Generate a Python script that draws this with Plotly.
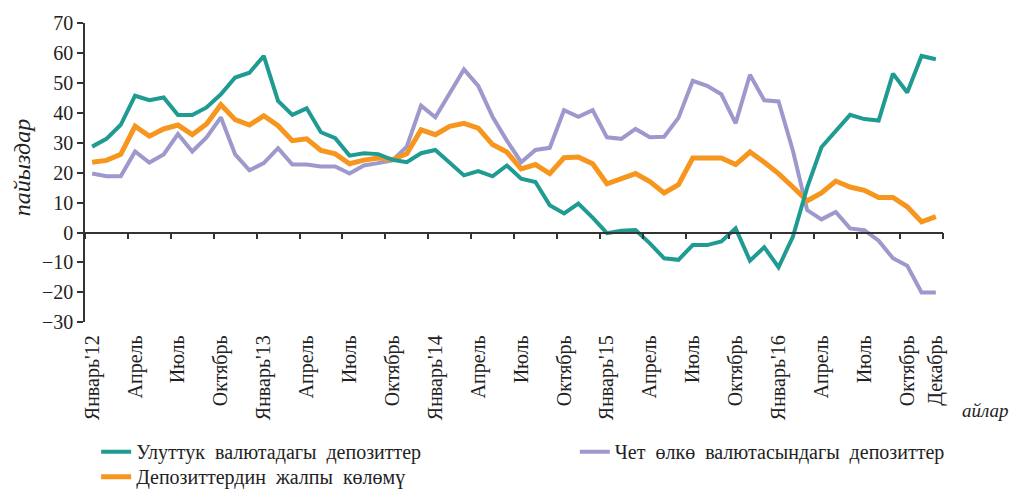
import plotly.graph_objects as go

# Monthly data, January 2012 - December 2016 (percent, y/y growth)
national = [28.7, 31.3, 36.0, 45.7, 44.2, 45.1, 39.3, 39.3, 41.8, 46.2, 51.8, 53.4,
            59.0, 44.0, 39.3, 41.5, 33.5, 31.5, 25.7, 26.5, 26.2, 24.3, 23.5, 26.5,
            27.6, 23.5, 19.1, 20.5, 18.8, 22.4, 18.0, 16.9, 9.1, 6.4, 9.7, 5.0,
            -0.2, 0.6, 0.8, -3.6, -8.6, -9.1, -4.2, -4.2, -3.0, 1.4, -9.4, -4.9,
            -11.6, -1.4, 15.0, 28.5, 33.8, 39.3, 37.9, 37.4, 53.1, 46.8, 59.0, 57.9]
foreign = [19.7, 18.8, 18.8, 27.1, 23.4, 26.1, 32.9, 27.1, 31.8, 38.5, 26.1, 20.8,
           23.2, 28.2, 22.7, 22.7, 22.1, 22.1, 19.7, 22.4, 23.2, 24.1, 28.7, 42.4,
           38.5, 46.8, 54.5, 49.0, 38.7, 30.7, 23.5, 27.6, 28.3, 40.9, 38.7, 40.9,
           31.8, 31.3, 34.6, 31.8, 32.0, 38.3, 50.7, 49.0, 46.2, 36.5, 52.7, 44.2,
           43.8, 27.4, 7.5, 4.4, 6.9, 1.4, 0.8, -2.7, -8.6, -11.1, -20.0, -20.0]
total = [23.5, 24.1, 26.1, 35.5, 32.2, 34.6, 35.9, 32.7, 36.3, 42.7, 37.7, 35.9,
         39.0, 35.7, 30.7, 31.3, 27.4, 26.3, 23.0, 24.2, 24.9, 24.4, 26.3, 34.3,
         32.7, 35.5, 36.5, 34.9, 29.4, 26.9, 21.3, 22.7, 19.7, 25.0, 25.2, 23.0,
         16.3, 18.0, 19.7, 17.0, 13.2, 16.0, 24.9, 24.9, 24.9, 22.7, 26.9, 23.5,
         19.7, 15.2, 10.6, 13.2, 17.2, 15.2, 14.1, 11.7, 11.7, 8.6, 3.6, 5.3]

tick_positions = [0, 3, 6, 9, 12, 15, 18, 21, 24, 27, 30, 33, 36, 39, 42, 45, 48, 51, 54, 57, 59]
tick_labels = ["Январь'12", "Апрель", "Июль", "Октябрь",
               "Январь'13", "Апрель", "Июль", "Октябрь",
               "Январь'14", "Апрель", "Июль", "Октябрь",
               "Январь'15", "Апрель", "Июль", "Октябрь",
               "Январь'16", "Апрель", "Июль", "Октябрь", "Декабрь"]

series_names = ["Улуттук\u00a0 валютадагы\u00a0 депозиттер",
                "Чет\u00a0 өлкө\u00a0 валютасындагы\u00a0 депозиттер",
                "Депозиттердин\u00a0 жалпы\u00a0 көлөмү"]

x = list(range(len(total)))
n = len(total)
boundaries = [p - 0.5 for p in range(0, n + 1, 3)]

FONT = "Liberation Serif, Times New Roman, serif"
TEAL = "#1f9b92"
PURPLE = "#9d99cc"
ORANGE = "#f7961f"
AXIS = "#333333"
TXT = "#222222"

fig = go.Figure()
fig.add_trace(go.Scatter(x=x, y=foreign, mode="lines", name=series_names[1],
                         line=dict(color=PURPLE, width=4), legend="legend2"))
fig.add_trace(go.Scatter(x=x, y=total, mode="lines", name=series_names[2],
                         line=dict(color=ORANGE, width=5), legend="legend3"))
fig.add_trace(go.Scatter(x=x, y=national, mode="lines", name=series_names[0],
                         line=dict(color=TEAL, width=4), legend="legend"))

legend_common = dict(orientation="h", xref="container", yref="container",
                     xanchor="left", yanchor="top",
                     font=dict(family=FONT, size=20, color=TXT),
                     bgcolor="rgba(0,0,0,0)")

fig.update_layout(
    width=1012, height=490,
    margin=dict(l=85, r=69, t=22, b=167),
    paper_bgcolor="white", plot_bgcolor="white",
    font=dict(family=FONT, color=TXT, size=20),
    showlegend=True,
    legend=dict(x=0.095, y=0.118, **legend_common),
    legend2=dict(x=0.568, y=0.118, **legend_common),
    legend3=dict(x=0.095, y=0.067, **legend_common),
    xaxis=dict(range=[-0.5, n - 0.5], tickmode="array", tickvals=tick_positions,
               ticktext=tick_labels, tickangle=-90, ticks="", showline=False,
               showgrid=False, zeroline=False, ticklabelstandoff=8,
               tickfont=dict(family=FONT, size=20, color=TXT)),
    xaxis2=dict(range=[-0.5, n - 0.5], overlaying="x", anchor="free", position=0.3,
                side="bottom", tickmode="array", tickvals=boundaries,
                ticks="outside", ticklen=6, tickwidth=1.5, tickcolor=AXIS,
                showticklabels=False, showline=True, linecolor=AXIS, linewidth=1.5,
                showgrid=False, zeroline=False),
    yaxis=dict(range=[-30, 70], dtick=10, ticks="outside", ticklen=6, tickwidth=1.5,
               tickcolor=AXIS, showline=True, linecolor=AXIS, linewidth=1.5,
               showgrid=False, zeroline=False,
               tickfont=dict(family=FONT, size=20, color=TXT)),
    annotations=[
        dict(text="<i>пайыздар</i>", xref="paper", yref="paper", x=-0.0734, y=0.515,
             xanchor="center", yanchor="middle",
             showarrow=False, textangle=-90, font=dict(family=FONT, size=24, color=TXT)),
        dict(text="<i>айлар</i>", xref="paper", yref="paper", x=1.05, y=-0.2957,
             xanchor="center", yanchor="middle",
             showarrow=False, font=dict(family=FONT, size=19, color=TXT)),
    ],
)

# invisible helper trace so the zero-line axis (ticks between months) is drawn
fig.add_trace(go.Scatter(x=[], y=[], xaxis="x2", yaxis="y", showlegend=False,
                         hoverinfo="skip"))

fig.write_html("out.html", config={"displayModeBar": False},
               post_script="document.body.style.margin='0';")
